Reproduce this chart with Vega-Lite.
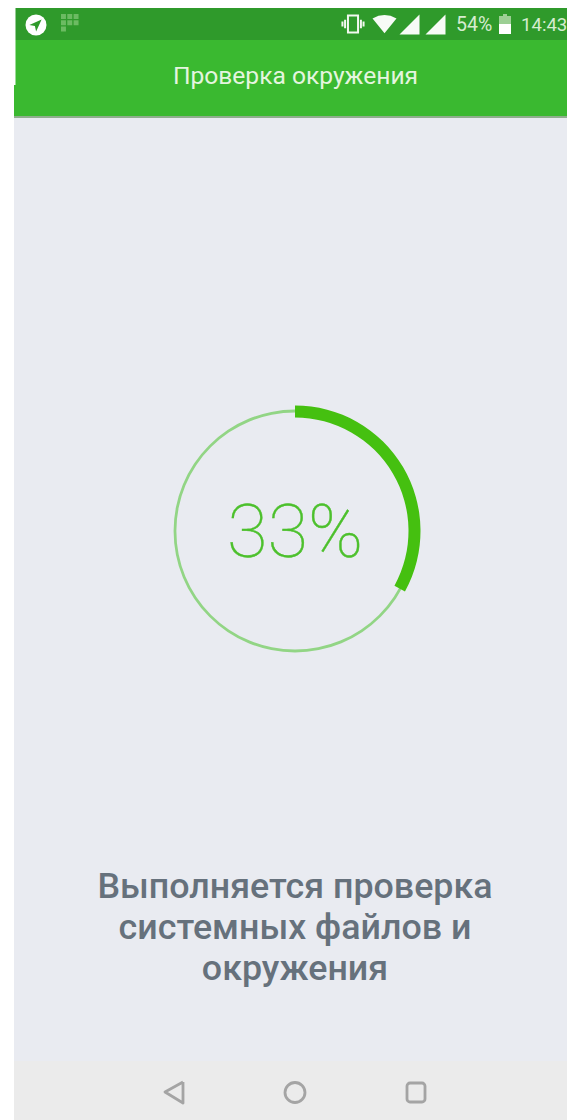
{
"$schema":"https://vega.github.io/schema/vega-lite/v6.json",
"width":567,"height":1120,"padding":0,
"autosize":{"type":"none"},
"background":"#ffffff",
"view":{"stroke":null},
"encoding":{
 "x":{"field":"x","type":"quantitative","axis":null,"scale":{"domain":[0,567],"nice":false,"zero":false}},
 "y":{"field":"y","type":"quantitative","axis":null,"scale":{"domain":[0,1120],"reverse":true,"nice":false,"zero":false}}
},
"layer":[
{"data":{"values":[
 {"part":"status","x":15.5,"x1":567,"y":8,"y1":40},
 {"part":"bar","x":15.5,"x1":567,"y":40,"y1":86},
 {"part":"bar","x":14,"x1":567,"y":85,"y1":116},
 {"part":"shadow","x":14,"x1":567,"y":116,"y1":118},
 {"part":"body","x":14,"x1":567,"y":118,"y1":1061},
 {"part":"nav","x":14,"x1":567,"y":1061,"y1":1120}
 ]},
 "mark":{"type":"rect"},
 "encoding":{"x2":{"field":"x1"},"y2":{"field":"y1"},
  "color":{"field":"part","type":"nominal","legend":null,"scale":{"domain":["status","bar","shadow","body","nav"],"range":["#2f9a2b","#3ab930","#8fae8d","#e9ebf1","#ebebeb"]}}}},
{"data":{"values":[{"x":295,"y":531,"start":0,"end":1}]},
 "mark":{"type":"arc","innerRadius":118.6,"outerRadius":121.4,"fill":"#92d585"},
 "encoding":{"theta":{"field":"start","type":"quantitative","scale":{"domain":[0,1],"range":[0,6.2832]}},"theta2":{"field":"end"}}},
{"data":{"values":[{"x":295,"y":531,"start":0,"end":0.33}]},
 "mark":{"type":"arc","innerRadius":113.5,"outerRadius":125.5,"fill":"#45c010"},
 "encoding":{"theta":{"field":"start","type":"quantitative","scale":{"domain":[0,1],"range":[0,6.2832]}},"theta2":{"field":"end"}}},
{"data":{"values":[{"x":295,"y":535,"label":"33%"}]},
 "mark":{"type":"text","font":"Roboto","fontWeight":100,"fontSize":74,"align":"center","baseline":"middle","color":"#4cc02c","stroke":"#4cc02c","strokeWidth":0.4},
 "encoding":{"text":{"field":"label"}}},
{"data":{"values":[{"x":295.5,"y":77,"label":"Проверка окружения"}]},
 "mark":{"type":"text","font":"Roboto","fontSize":24.6,"align":"center","baseline":"middle","color":"#e4f5df"},
 "encoding":{"text":{"field":"label"}}},
{"data":{"values":[{"x":295,"y":887,"label":"Выполняется проверка"},{"x":295,"y":928,"label":"системных файлов и"},{"x":295,"y":969,"label":"окружения"}]},
 "mark":{"type":"text","font":"Roboto","fontWeight":500,"fontSize":35.8,"align":"center","baseline":"middle","color":"#66717c"},
 "encoding":{"text":{"field":"label"}}},
{"data":{"values":[{"x":456,"y":25,"label":"54%"}]},
 "mark":{"type":"text","font":"Roboto","fontSize":19.5,"align":"left","baseline":"middle","color":"#d6ecd0"},
 "encoding":{"text":{"field":"label"}}},
{"data":{"values":[{"x":521,"y":25,"label":"14:43"}]},
 "mark":{"type":"text","font":"Roboto","fontSize":18.6,"align":"left","baseline":"middle","color":"#d6ecd0"},
 "encoding":{"text":{"field":"label"}}},
{"data":{"values":[{"x":36,"y":25}]},"mark":{"type":"point","shape":"circle","filled":true,"opacity":1,"size":441,"color":"#ffffff"}},
{"data":{"values":[{"x":35.5,"y":25.5}]},"mark":{"type":"point","shape":"M1,-1L-1,-0.1L-0.1,0.1L0.1,1Z","filled":true,"opacity":1,"size":150,"color":"#2f9a2b"}},
{"data":{"values":[{"x":70,"y":23}]},"mark":{"type":"point","shape":"M-1,-1H-0.45V-0.45H-1ZM-0.3,-1H0.25V-0.45H-0.3ZM0.4,-1H0.95V-0.45H0.4ZM-1,-0.3H-0.45V0.25H-1ZM-0.3,-0.3H0.25V0.25H-0.3ZM0.4,-0.3H0.95V0.25H0.4ZM-1,0.4H-0.45V0.95H-1Z","filled":true,"opacity":1,"size":324,"color":"#6cbb62"}},
{"data":{"values":[{"x":353,"y":24}]},"mark":{"type":"point","shape":"M-0.42,-0.7H0.42V0.7H-0.42ZM-0.66,-0.35V0.35M0.66,-0.35V0.35M-0.88,-0.2V0.2M0.88,-0.2V0.2","filled":false,"opacity":1,"size":576,"stroke":"#f2f8f0","strokeWidth":2}},
{"data":{"values":[{"x":384.5,"y":25}]},"mark":{"type":"point","shape":"M-1,-0.55Q0,-1.1 1,-0.55L0,0.68Z","filled":true,"opacity":1,"size":576,"color":"#f7fbf6"}},
{"data":{"values":[{"x":409.5,"y":24.5},{"x":435.5,"y":24.5}]},"mark":{"type":"point","shape":"M1,-1L1,1L-1,1Z","filled":true,"opacity":1,"size":400,"color":"#f7fbf6"}},
{"data":{"values":[{"x":505,"y":24}]},"mark":{"type":"point","shape":"M-0.6,-0.8L-0.2,-0.8L-0.2,-1L0.2,-1L0.2,-0.8L0.6,-0.8L0.6,1L-0.6,1Z","filled":true,"opacity":1,"size":400,"color":"#9ccf94"}},
{"data":{"values":[{"x":505,"y":24}]},"mark":{"type":"point","shape":"M-0.6,0L0.6,0L0.6,1L-0.6,1Z","filled":true,"opacity":1,"size":400,"color":"#ffffff"}},
{"data":{"values":[{"x":183,"y":1082,"o":1},{"x":165,"y":1092,"o":2},{"x":183,"y":1103,"o":3},{"x":183,"y":1082,"o":4}]},
 "mark":{"type":"line","stroke":"#a4a4a4","strokeWidth":2.8,"strokeJoin":"round"},
 "encoding":{"order":{"field":"o","type":"quantitative"}}},
{"data":{"values":[{"x":295,"y":1092.5,"start":0,"end":1}]},
 "mark":{"type":"arc","innerRadius":8.6,"outerRadius":11.4,"fill":"#a4a4a4"},
 "encoding":{"theta":{"field":"start","type":"quantitative","scale":{"domain":[0,1],"range":[0,6.2832]}},"theta2":{"field":"end"}}},
{"data":{"values":[{"x":407,"x1":425,"y":1083,"y1":1102}]},
 "mark":{"type":"rect","fillOpacity":0,"stroke":"#a4a4a4","strokeWidth":2.8,"cornerRadius":3},
 "encoding":{"x2":{"field":"x1"},"y2":{"field":"y1"}}}
]
}
